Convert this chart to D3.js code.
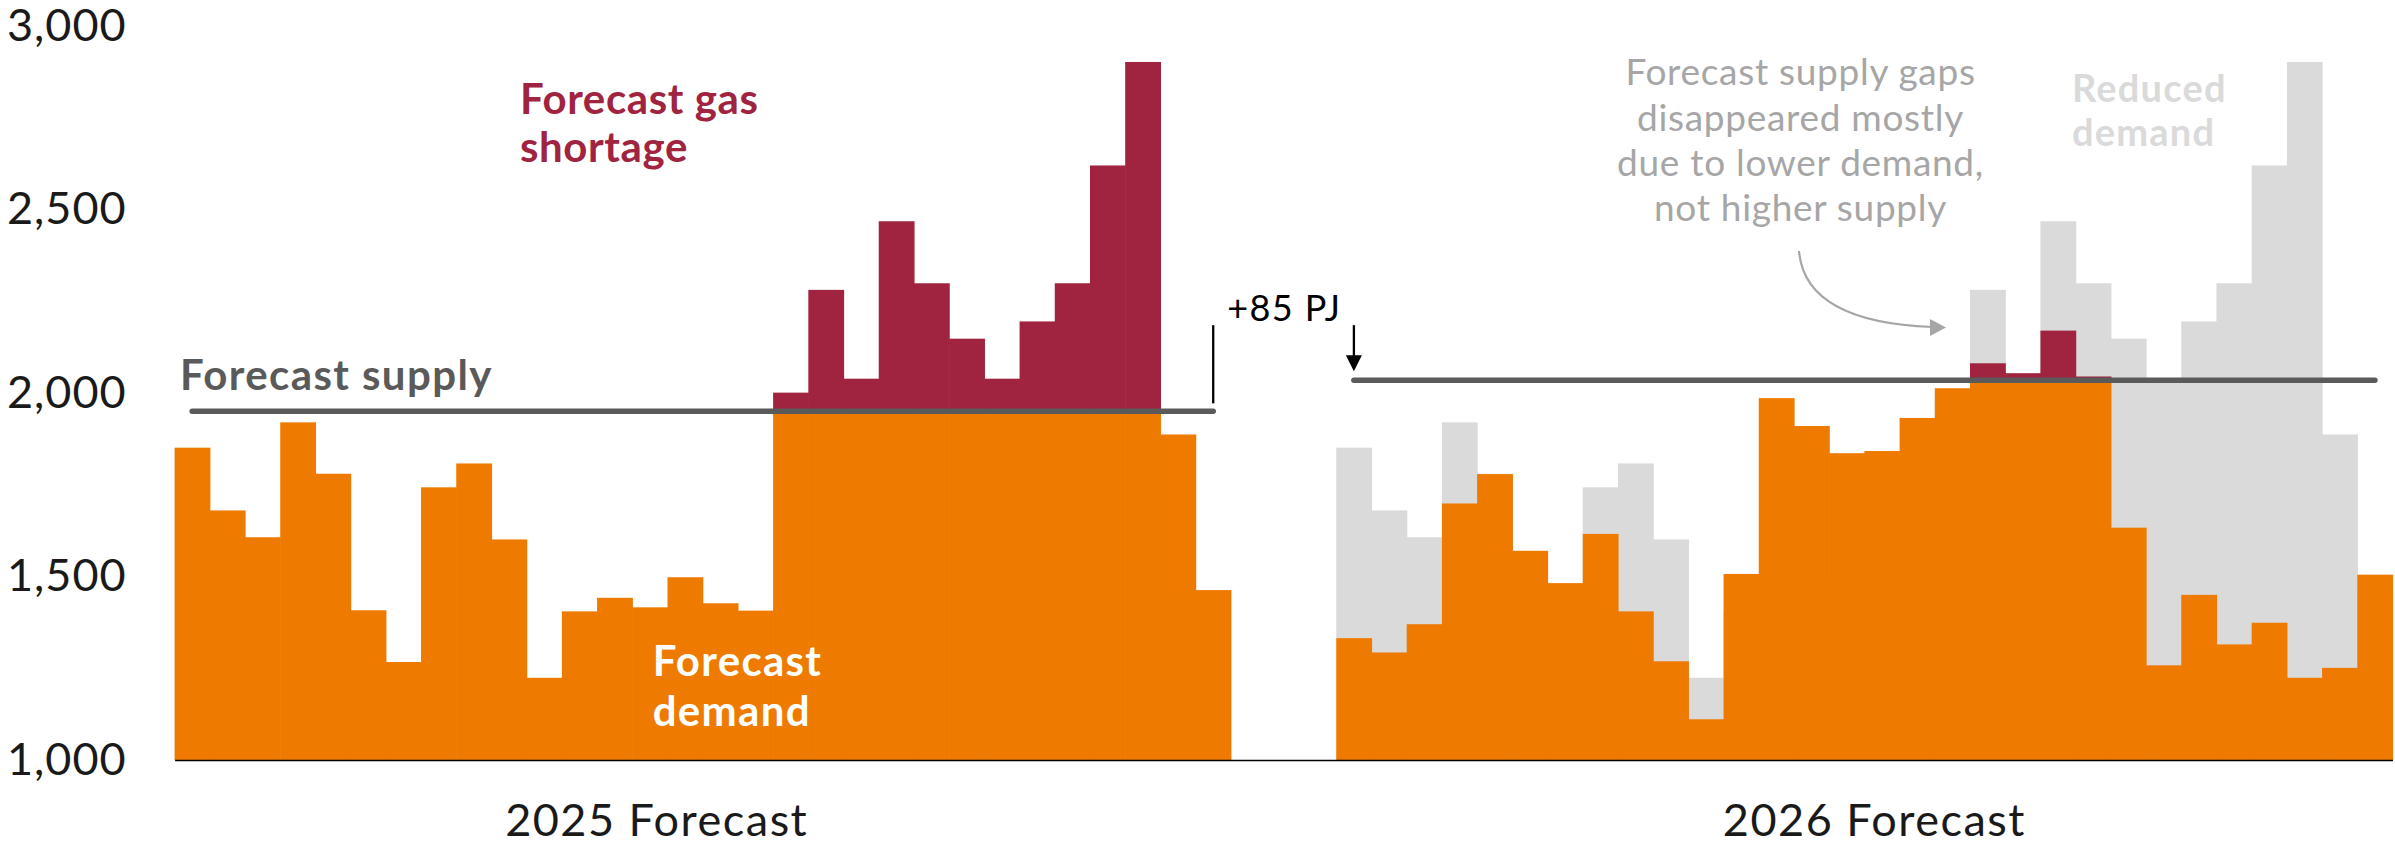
<!DOCTYPE html>
<html>
<head>
<meta charset="utf-8">
<script src="https://cdn.jsdelivr.net/npm/d3@7"></script>
<style>
  body { margin: 0; background: #fff; }
  svg text { font-family: Lato, "Noto Sans", sans-serif; }
</style>
</head>
<body>
<div id="chart"></div>
<script>
// Gas demand vs supply, 2025 forecast compared with the 2026 forecast (PJ)

// Data
var groups = ["2025 Forecast", "2026 Forecast"];
var periods = d3.range(1, 31);
var demand2025 = [1851, 1680, 1607, 1920, 1780, 1408, 1267, 1743, 1808, 1601,
                  1224, 1405, 1442, 1416, 1498, 1427, 1407, 2001, 2281, 2039,
                  2468, 2299, 2148, 2039, 2195, 2299, 2620, 2902, 1887, 1463];
var demand2026 = [1332, 1293, 1370, 1699, 1779, 1570, 1482, 1616, 1405, 1269,
                  1111, 1507, 1986, 1910, 1836, 1842, 1932, 2013, 2081, 2054,
                  2170, 2045, 1633, 1258, 1450, 1315, 1374, 1224, 1251, 1505];
var supply = [1950, 2035];
var yTicks = [1000, 1500, 2000, 2500, 3000];

// colours
var orange = "#ee7a00";
var maroon = "#a0233f";
var lightGrey = "#dadada";
var darkGrey = "#5a5a5a";
var noteGrey = "#a6a6a6";

var svgWidth = 2395;
var svgHeight = 846;
var margin = { top: 26, right: 2.5, bottom: 86, left: 174.6 };
var width = svgWidth - margin.left - margin.right;
var height = svgHeight - margin.top - margin.bottom;

var svg = d3.select("#chart")
    .append("svg")
    .attr("width", svgWidth)
    .attr("height", svgHeight);

var chartGroup = svg.append("g")
    .attr("transform", `translate(${margin.left}, ${margin.top})`);

// scales: one band per forecast year, one band per period inside it
var xGroup = d3.scaleBand()
    .domain(groups)
    .range([0, width])
    .paddingInner(0.0908);

var xBar = d3.scaleBand()
    .domain(periods)
    .range([0, xGroup.bandwidth()]);

var yLinearScale = d3.scaleLinear()
    .domain([1000, 3000])
    .range([height, 0]);

// build one row per bar
var rows = [];
groups.forEach(function (g, gi) {
    var demand = gi === 0 ? demand2025 : demand2026;
    periods.forEach(function (p, i) {
        rows.push({
            group: g,
            period: p,
            demand: demand[i],
            previous: gi === 1 ? demand2025[i] : null,
            supply: supply[gi]
        });
    });
});

function barX(d) { return xGroup(d.group) + xBar(d.period); }
// small overlap so neighbouring bars don't show hairline seams
var barW = xBar.bandwidth() + 0.6;

// grey: demand that was forecast a year earlier (2026 group only)
chartGroup.selectAll(".reduced")
    .data(rows.filter(d => d.previous !== null))
    .enter()
    .append("rect")
    .attr("class", "reduced")
    .attr("x", barX)
    .attr("width", barW)
    .attr("y", d => yLinearScale(d.previous))
    .attr("height", d => height - yLinearScale(d.previous))
    .attr("fill", lightGrey);

// orange: demand that is met by supply
chartGroup.selectAll(".met")
    .data(rows)
    .enter()
    .append("rect")
    .attr("class", "met")
    .attr("x", barX)
    .attr("width", barW)
    .attr("y", d => yLinearScale(Math.min(d.demand, d.supply)))
    .attr("height", d => height - yLinearScale(Math.min(d.demand, d.supply)))
    .attr("fill", orange);

// maroon: shortage above supply
chartGroup.selectAll(".short")
    .data(rows.filter(d => d.demand > d.supply))
    .enter()
    .append("rect")
    .attr("class", "short")
    .attr("x", barX)
    .attr("width", barW)
    .attr("y", d => yLinearScale(d.demand))
    .attr("height", d => yLinearScale(d.supply) - yLinearScale(d.demand))
    .attr("fill", maroon);

// supply lines, from the centre of the first bar to the centre of the last
var half = xBar.bandwidth() / 2;
chartGroup.selectAll(".supply")
    .data(groups)
    .enter()
    .append("line")
    .attr("class", "supply")
    .attr("x1", g => xGroup(g) + xBar(periods[0]) + half)
    .attr("x2", g => xGroup(g) + xBar(periods[periods.length - 1]) + half)
    .attr("y1", (g, i) => yLinearScale(supply[i]))
    .attr("y2", (g, i) => yLinearScale(supply[i]))
    .attr("stroke", darkGrey)
    .attr("stroke-width", 5.5)
    .attr("stroke-linecap", "round");

// y axis, labels only
var leftAxis = d3.axisLeft(yLinearScale)
    .tickValues(yTicks)
    .tickFormat(d3.format(","))
    .tickSize(0)
    .tickPadding(48);

var yAxis = chartGroup.append("g").call(leftAxis);
yAxis.select(".domain").remove();
yAxis.selectAll("text")
    .attr("font-family", "Lato, sans-serif")
    .attr("font-size", "45px")
    .attr("letter-spacing", "1px")
    .attr("fill", "#1a1a1a");

// x axis: the baseline plus the two group labels
var bottomAxis = d3.axisBottom(xGroup).tickSize(0).tickPadding(0);
var xAxis = chartGroup.append("g")
    .attr("transform", `translate(0, ${height})`)
    .call(bottomAxis);
xAxis.select(".domain")
    .attr("stroke", "#000")
    .attr("stroke-width", 1.6);
var labelShift = [-46, 10];
xAxis.selectAll("text")
    .attr("font-family", "Lato, sans-serif")
    .attr("font-size", "45px")
    .attr("letter-spacing", "1.5px")
    .attr("fill", "#1a1a1a")
    .attr("dy", null)
    .attr("y", 76)
    .attr("x", (d, i) => labelShift[i]);

// annotations
function label(x, y, lines, size, weight, color, anchor, lineGap, spacing) {
    var t = svg.append("text")
        .attr("x", x)
        .attr("y", y)
        .attr("font-size", size + "px")
        .attr("font-weight", weight)
        .attr("letter-spacing", spacing + "px")
        .attr("fill", color)
        .attr("text-anchor", anchor || "start");
    lines.forEach(function (s, i) {
        t.append("tspan")
            .attr("x", x)
            .attr("y", y + i * lineGap)
            .text(s);
    });
}

label(180, 389.5, ["Forecast supply"], 42, 700, darkGrey, "start", 0, 1.4);
label(520, 113.5, ["Forecast gas", "shortage"], 42, 700, maroon, "start", 48.5, 0.6);
label(652.7, 675.5, ["Forecast", "demand"], 42, 700, "#fff", "start", 50, 1.3);
label(2072, 101.5, ["Reduced", "demand"], 38, 700, lightGrey, "start", 44.3, 1.2);
label(1800.5, 85.2, ["Forecast supply gaps", "disappeared mostly",
                     "due to lower demand,", "not higher supply"], 37, 400, noteGrey, "middle", 45.3, 0.7);

// +85 PJ: step between the two supply lines
var stepX1 = margin.left + xGroup(groups[0]) + xBar(periods[29]) + half;
var stepX2 = margin.left + xGroup(groups[1]) + xBar(periods[0]) + half;
var s1 = margin.top + yLinearScale(supply[0]);
var s2 = margin.top + yLinearScale(supply[1]);

svg.append("line")
    .attr("x1", stepX1).attr("x2", stepX1)
    .attr("y1", s2 - 55).attr("y2", s1 - 8)
    .attr("stroke", "#000").attr("stroke-width", 2.3);

svg.append("line")
    .attr("x1", stepX2).attr("x2", stepX2)
    .attr("y1", s2 - 55).attr("y2", s2 - 22)
    .attr("stroke", "#000").attr("stroke-width", 2.3);
svg.append("path")
    .attr("d", `M${stepX2 - 8},${s2 - 25} L${stepX2 + 8},${s2 - 25} L${stepX2},${s2 - 9} Z`)
    .attr("fill", "#000");

svg.append("text")
    .attr("x", stepX1 + 14)
    .attr("y", 321)
    .attr("font-size", "36px")
    .attr("letter-spacing", "1.4px")
    .attr("fill", "#000")
    .text("+" + (supply[1] - supply[0]) + " PJ");

// curved pointer from the note to the 2026 shortage bars
svg.append("path")
    .attr("d", "M1799,251 Q1805,322 1932,327")
    .attr("fill", "none")
    .attr("stroke", noteGrey)
    .attr("stroke-width", 2.2);
svg.append("path")
    .attr("d", "M1930,319 L1946,327.5 L1930,336 Z")
    .attr("fill", noteGrey);
</script>
</body>
</html>
